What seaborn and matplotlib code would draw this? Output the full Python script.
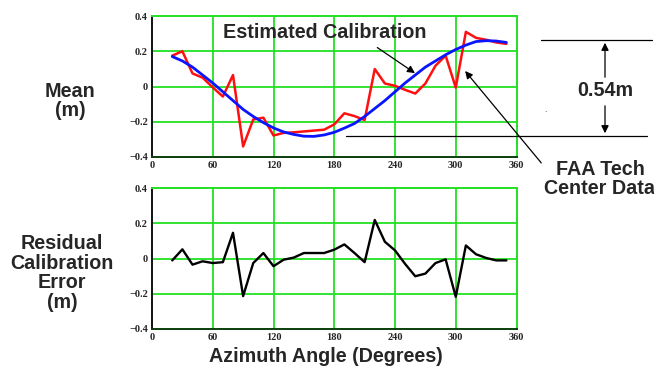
import matplotlib
matplotlib.use("Agg")
import matplotlib.pyplot as plt
import pandas as pd
import seaborn as sns

# Azimuth angles (degrees) of the measurements
azimuth = list(range(20, 351, 10))

# FAA Tech Center mean error (m)
faa_mean = [0.175, 0.20, 0.074, 0.05, -0.005, -0.057, 0.065, -0.34, -0.187, -0.177,
            -0.278, -0.263, -0.26, -0.255, -0.25, -0.245, -0.215, -0.152, -0.168, -0.19,
            0.099, 0.017, 0.004, -0.019, -0.04, 0.017, 0.118, 0.175, -0.006, 0.31,
            0.276, 0.265, 0.25, 0.242]

# Estimated calibration curve (m)
est_cal = [0.17, 0.145, 0.11, 0.065, 0.02, -0.03, -0.08, -0.13, -0.17, -0.205,
           -0.235, -0.258, -0.272, -0.282, -0.283, -0.275, -0.26, -0.236, -0.21, -0.17,
           -0.125, -0.08, -0.03, 0.02, 0.065, 0.11, 0.145, 0.18, 0.21, 0.235,
           0.255, 0.26, 0.258, 0.25]

# Residual calibration error (m)
residual = [-0.01, 0.053, -0.034, -0.015, -0.025, -0.02, 0.147, -0.213, -0.025, 0.032,
            -0.043, -0.006, 0.006, 0.032, 0.032, 0.032, 0.051, 0.081, 0.032, -0.02,
            0.22, 0.096, 0.047, -0.03, -0.1, -0.085, -0.025, -0.004, -0.217, 0.075,
            0.025, 0.004, -0.01, -0.01]

x_ticks = [0, 60, 120, 180, 240, 300, 360]
y_ticks = [-0.4, -0.2, 0.0, 0.2, 0.4]
y_ticklabels = ["\u22120.4", "\u22120.2", "0", "0.2", "0.4"]

sns.set_style("white")
plt.rcParams["font.family"] = ["Liberation Sans", "DejaVu Sans"]

W, H = 654, 366
fig = plt.figure(figsize=(W / 100, H / 100), dpi=100)


def fx(px):
    return px / W


def fy(py):
    return 1 - py / H


ax_top = fig.add_axes([fx(152), fy(157), fx(516.5) - fx(152), fy(16) - fy(157)])
ax_bot = fig.add_axes([fx(152), fy(329), fx(516.5) - fx(152), fy(188.3) - fy(329)])

grid_green = "#22e022"
tick_font = dict(family=["Liberation Serif", "DejaVu Serif"], weight="bold", size=7.5)

top_df = pd.DataFrame({"azimuth": azimuth, "faa": faa_mean, "est": est_cal})
bot_df = pd.DataFrame({"azimuth": azimuth, "residual": residual})

sns.lineplot(data=top_df, x="azimuth", y="faa", ax=ax_top, color="#ff1010", lw=1.8, zorder=3)
sns.lineplot(data=top_df, x="azimuth", y="est", ax=ax_top, color="#0a14ff", lw=2.0, zorder=4)
sns.lineplot(data=bot_df, x="azimuth", y="residual", ax=ax_bot, color="black", lw=1.7, zorder=3)

for ax in (ax_top, ax_bot):
    ax.set_xlim(0, 360)
    ax.set_ylim(-0.4, 0.4)
    ax.set_xticks(x_ticks)
    ax.set_yticks(y_ticks)
    ax.set_xticklabels([str(t) for t in x_ticks], fontdict=tick_font)
    ax.set_yticklabels(y_ticklabels, fontdict=tick_font)
    ax.tick_params(length=0, pad=3)
    for v in x_ticks[1:-1]:
        ax.axvline(v, color=grid_green, lw=1.3, zorder=0)
    for v in [-0.2, 0.0, 0.2]:
        ax.axhline(v, color=grid_green, lw=1.3, zorder=0)
    ax.spines["left"].set_color("#111111")
    ax.spines["bottom"].set_color("#0b3d0b")
    ax.spines["top"].set_color(grid_green)
    ax.spines["right"].set_color(grid_green)
    for s in ax.spines.values():
        s.set_linewidth(1.4)
    ax.set_xlabel("")
    ax.set_ylabel("")

label_font = dict(weight="bold", size=14.2)

# Panel labels
fig.text(fx(70), fy(101), "Mean\n(m)", ha="center", va="center", linespacing=1.05, **label_font)
fig.text(fx(62), fy(273), "Residual\nCalibration\nError\n(m)", ha="center", va="center",
         linespacing=1.05, **label_font)
fig.text(fx(326), fy(356), "Azimuth Angle (Degrees)", ha="center", va="center", **label_font)

# Estimated calibration callout
fig.text(fx(325), fy(32), "Estimated Calibration", ha="center", va="center", **label_font)
arrow_kw = dict(arrowstyle="-|>", color="black", lw=0.9, mutation_scale=11)
ax_top.annotate("", xy=(262, 0.067), xycoords="data",
                xytext=(fx(375), fy(46)), textcoords="figure fraction",
                arrowprops=arrow_kw, annotation_clip=False)

# FAA data callout
fig.text(fx(600), fy(179), "FAA Tech\nCenter Data", ha="center", va="center",
         linespacing=1.05, **label_font)
ax_top.annotate("", xy=(307.5, 0.10), xycoords="data",
                xytext=(fx(543), fy(165)), textcoords="figure fraction",
                arrowprops=arrow_kw, annotation_clip=False)

# Peak-to-peak span marker
fig.add_artist(plt.Line2D([fx(541), fx(652)], [fy(40), fy(40)], color="black", lw=0.9))
fig.add_artist(plt.Line2D([fx(346), fx(647)], [fy(136), fy(136)], color="black", lw=0.9))
fig.text(fx(605), fy(91), "0.54m", ha="center", va="center", **label_font)
fig.add_artist(matplotlib.patches.FancyArrowPatch((fx(605), fy(80)), (fx(605), fy(40)),
               transform=fig.transFigure, **arrow_kw))
fig.add_artist(matplotlib.patches.FancyArrowPatch((fx(605), fy(103)), (fx(605), fy(136)),
               transform=fig.transFigure, **arrow_kw))
fig.text(fx(545), fy(110), ".", ha="center", va="center", size=6)

fig.savefig("out.png", dpi=100)
